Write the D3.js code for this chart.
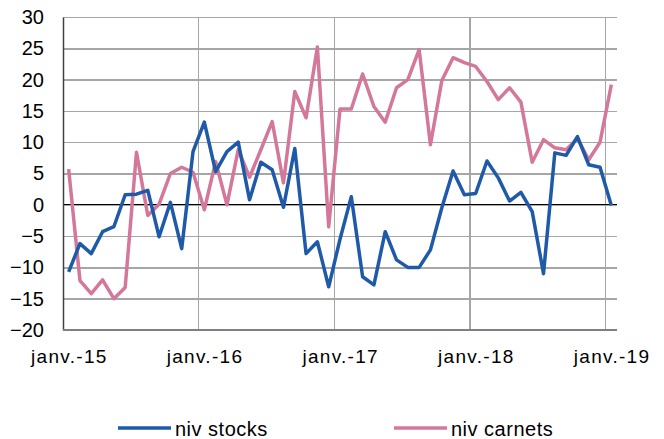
<!DOCTYPE html>
<html>
<head>
<meta charset="utf-8">
<script src="https://cdn.jsdelivr.net/npm/d3@7"></script>
<style>
  body { margin: 0; background: #fff; }
  text { font-family: "Liberation Sans", Arial, sans-serif; }
</style>
</head>
<body>
<div id="viz"></div>
<script>
const colorStocks = '#1F5AA8';
const colorCarnets = '#D4789B';

// monthly values, janv. 2015 -> janv. 2019
const nivStocks = [
  -10.7, -6.2, -7.8, -4.3, -3.5, 1.6, 1.7, 2.3, -5.1, 0.4, -7.0, 8.5,
  13.2, 5.3, 8.5, 10.0, 0.8, 6.8, 5.6, -0.4, 9.0, -7.8, -5.9, -13.1,
  -5.5, 1.3, -11.5, -12.8, -4.3, -8.8, -10.0, -10.0, -7.2, -0.5, 5.4, 1.6,
  1.8, 7.0, 4.3, 0.6, 2.0, -1.1, -11.0, 8.3, 7.9, 10.9, 6.4, 6.0, -0.1
];
const nivCarnets = [
  5.7, -12.1, -14.2, -12.0, -15.0, -13.2, 8.4, -1.7, 0.1, 5.0, 6.0, 5.2,
  -0.8, 6.9, 0.0, 8.8, 4.4, 8.8, 13.3, 3.5, 18.1, 13.9, 25.2, -3.5,
  15.3, 15.3, 20.9, 15.7, 13.2, 18.7, 20.0, 24.8, 9.6, 19.8, 23.5, 22.7,
  22.1, 19.7, 16.8, 18.7, 16.4, 6.8, 10.4, 9.1, 8.8, 10.6, 7.2, 10.0, 19.2
];
const yTicks = [-20, -15, -10, -5, 0, 5, 10, 15, 20, 25, 30];
const xTickLabels = ['janv.-15', 'janv.-16', 'janv.-17', 'janv.-18', 'janv.-19'];
const seriesNames = ['niv stocks', 'niv carnets'];

function createViz(){

  let dimensions = {
    width: 664,
    height: 439,
    margin: { top: 17, right: 47, bottom: 109, left: 63 },
  }
  dimensions.boundedWidth = dimensions.width - dimensions.margin.left - dimensions.margin.right
  dimensions.boundedHeight = dimensions.height - dimensions.margin.top - dimensions.margin.bottom

  const wrapper = d3.select('#viz')
    .append('svg')
    .attr('width', dimensions.width)
    .attr('height', dimensions.height)

  const chart = wrapper.append('g')
    .attr('transform', `translate(${dimensions.margin.left},${dimensions.margin.top})`)

  const months = d3.range(nivStocks.length)

  const xScale = d3.scaleBand()
    .domain(months)
    .range([0, dimensions.boundedWidth])
    .paddingInner(0)
    .paddingOuter(0)

  const yScale = d3.scaleLinear()
    .domain([-20, 30])
    .range([dimensions.boundedHeight, 0])

  // horizontal grid
  const yGrid = chart.append('g')
    .call(d3.axisLeft(yScale).tickValues(yTicks).tickSize(-dimensions.boundedWidth).tickFormat(''))
  yGrid.select('.domain').remove()
  yGrid.selectAll('line')
    .attr('stroke', '#a6a6a6')
    .attr('stroke-width', 1.5)
    .attr('shape-rendering', 'crispEdges')

  // vertical grid at each january
  const janMonths = months.filter(m => m % 12 == 0)
  chart.append('g')
    .selectAll('line')
    .data(janMonths.slice(1))
    .join('line')
    .attr('x1', d => xScale(d))
    .attr('x2', d => xScale(d))
    .attr('y1', 0)
    .attr('y2', dimensions.boundedHeight)
    .attr('stroke', '#a6a6a6')
    .attr('stroke-width', 1.5)
    .attr('shape-rendering', 'crispEdges')

  // zero line
  chart.append('line')
    .attr('x1', 0)
    .attr('x2', dimensions.boundedWidth)
    .attr('y1', yScale(0))
    .attr('y2', yScale(0))
    .attr('stroke', '#000')
    .attr('stroke-width', 1)
    .attr('shape-rendering', 'crispEdges')

  // y axis
  const yAxis = chart.append('g')
    .call(d3.axisLeft(yScale).tickValues(yTicks).tickSize(0).tickPadding(19))
  yAxis.select('.domain')
    .attr('stroke', '#404040')
    .attr('stroke-width', 1.5)
  yAxis.selectAll('text')
    .style('font-size', '20px')
    .attr('fill', '#000')

  // bottom axis line
  chart.append('line')
    .attr('x1', 0)
    .attr('x2', dimensions.boundedWidth)
    .attr('y1', dimensions.boundedHeight)
    .attr('y2', dimensions.boundedHeight)
    .attr('stroke', '#808080')
    .attr('stroke-width', 1.5)
    .attr('shape-rendering', 'crispEdges')

  // x labels
  chart.append('g')
    .selectAll('text')
    .data(janMonths)
    .join('text')
    .attr('x', d => xScale(d) + xScale.bandwidth() / 2)
    .attr('dx', 0.7)
    .attr('y', dimensions.boundedHeight + 33)
    .attr('text-anchor', 'middle')
    .style('font-size', '19px')
    .style('letter-spacing', '1.3px')
    .text((d, i) => xTickLabels[i])

  const lineGenerator = values => d3.line()
    .x((d, i) => xScale(i) + xScale.bandwidth() / 2)
    .y(d => yScale(d))(values)

  chart.append('path')
    .attr('d', lineGenerator(nivCarnets))
    .attr('fill', 'none')
    .attr('stroke', colorCarnets)
    .attr('stroke-width', 3.5)
    .attr('stroke-linejoin', 'round')

  chart.append('path')
    .attr('d', lineGenerator(nivStocks))
    .attr('fill', 'none')
    .attr('stroke', colorStocks)
    .attr('stroke-width', 3.5)
    .attr('stroke-linejoin', 'round')

  // legend
  const legend = wrapper.append('g')
    .attr('transform', 'translate(0,428)')
  const legendX = [118, 394]
  const legendColors = [colorStocks, colorCarnets]
  seriesNames.forEach((name, i) => {
    legend.append('line')
      .attr('x1', legendX[i])
      .attr('x2', legendX[i] + 53)
      .attr('y1', 0)
      .attr('y2', 0)
      .attr('stroke', legendColors[i])
      .attr('stroke-width', 3.5)
    legend.append('text')
      .attr('x', legendX[i] + 57)
      .attr('y', 8)
      .style('font-size', '20px')
      .style('letter-spacing', '0.5px')
      .text(name)
  })
}

createViz();
</script>
</body>
</html>
